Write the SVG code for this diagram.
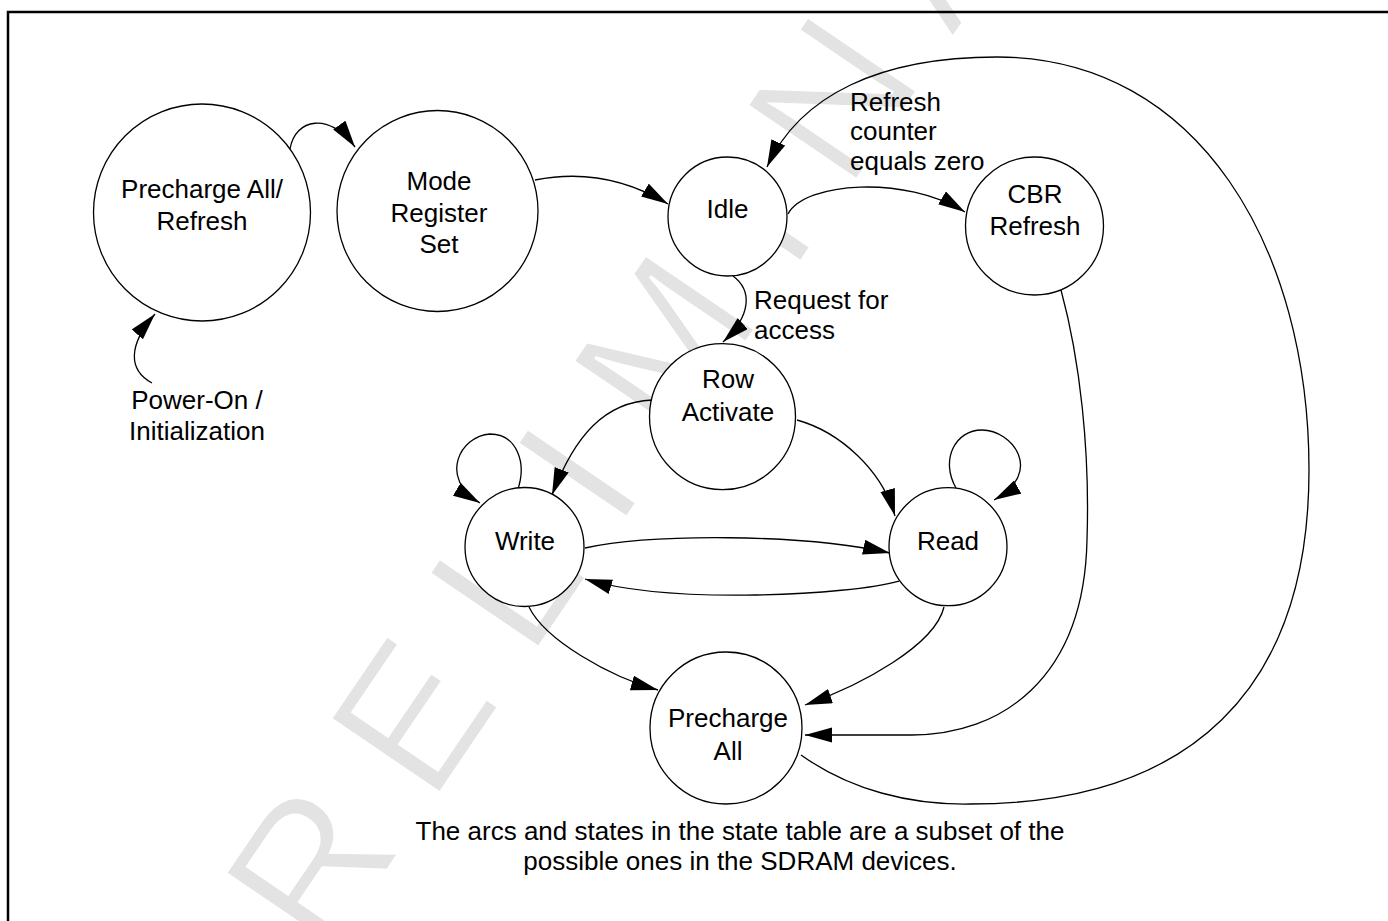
<svg xmlns="http://www.w3.org/2000/svg" width="1388" height="921" viewBox="0 0 1388 921">
<style>
  text { font-family: "Liberation Sans", Arial, Helvetica, sans-serif; font-size: 26px; fill: #000; }
  .lbl { text-anchor: middle; }
  .node circle { fill: #fff; stroke: #000; stroke-width: 1.3; }
  .edge { fill: none; stroke: #000; stroke-width: 1.3; marker-end: url(#ah); }
  .wm { fill: #e3e3e3; stroke: #fff; stroke-width: 3; font-size: 192px; letter-spacing: 48px; }
</style>
<defs>
  <marker id="ah" markerUnits="userSpaceOnUse" markerWidth="28" markerHeight="16" refX="27" refY="7.5" orient="auto">
    <path d="M0,0 L27,7.5 L0,15 z" fill="#000"/>
  </marker>
</defs>
<rect x="0" y="0" width="1388" height="921" fill="#fff"/>
<g id="watermark">
  <text class="wm" transform="translate(227,1106) rotate(-55.8)">PRELIMINARY</text>
</g>
<path id="frame" d="M8,921 V12 H1388" fill="none" stroke="#000" stroke-width="2.5"/>
<g id="connectors">
  <path class="edge" d="M152,383 C128,370 128,345 155,314"/>
  <path class="edge" d="M290,149 C295,118 330,112 355,147"/>
  <path class="edge" d="M535,180 C575,172 620,175 668,204"/>
  <path class="edge" d="M788,214 C805,182 905,175 965,212"/>
  <path class="edge" d="M801,755 C850,790 910,805 970,804 C1190,804 1309,690 1309,470 C1309,250 1200,57 997,57 C880,57 800,95 767,167"/>
  <path class="edge" d="M1061,290 C1080,360 1090,450 1087,540 C1084,680 1000,735 912,735 L805,735"/>
  <path class="edge" d="M733,276 C752,290 752,315 723,342"/>
  <path class="edge" d="M652,400 C605,402 575,435 552,495"/>
  <path class="edge" d="M797,420 C840,432 882,470 895,516"/>
  <path class="edge" d="M517,492 C528,462 516,434 490,434 C460,436 438,478 480,503"/>
  <path class="edge" d="M956,488 C940,460 955,430 982,430 C1012,430 1045,472 994,500"/>
  <path class="edge" d="M585,548 C650,534 800,533 890,553"/>
  <path class="edge" d="M899,581 C850,595 671,605 585,579"/>
  <path class="edge" d="M529,607 C545,640 610,677 658,690"/>
  <path class="edge" d="M944,607 C935,645 862,685 805,705"/>
</g>
<g id="node-precharge-refresh" class="node">
  <circle cx="202" cy="212.5" r="108.5"/>
  <text class="lbl" x="202" y="198">Precharge All/</text>
  <text class="lbl" x="202" y="230">Refresh</text>
</g>
<g id="node-mode-register" class="node">
  <circle cx="437.5" cy="211" r="100.5"/>
  <text class="lbl" x="439" y="190">Mode</text>
  <text class="lbl" x="439" y="221.5">Register</text>
  <text class="lbl" x="439" y="253">Set</text>
</g>
<g id="node-idle" class="node">
  <circle cx="727.5" cy="216.5" r="59.5"/>
  <text class="lbl" x="727.5" y="218">Idle</text>
</g>
<g id="node-cbr" class="node">
  <circle cx="1034.5" cy="226" r="69"/>
  <text class="lbl" x="1035" y="203">CBR</text>
  <text class="lbl" x="1035" y="235">Refresh</text>
</g>
<g id="node-row" class="node">
  <circle cx="722.5" cy="416.7" r="73"/>
  <text class="lbl" x="728" y="388">Row</text>
  <text class="lbl" x="728" y="420.5">Activate</text>
</g>
<g id="node-write" class="node">
  <circle cx="524.5" cy="547" r="59.5"/>
  <text class="lbl" x="525" y="549.5">Write</text>
</g>
<g id="node-read" class="node">
  <circle cx="948" cy="546.7" r="59"/>
  <text class="lbl" x="948" y="550">Read</text>
</g>
<g id="node-precharge-all" class="node">
  <circle cx="726" cy="728" r="76"/>
  <text class="lbl" x="728" y="727">Precharge</text>
  <text class="lbl" x="728" y="760">All</text>
</g>
<g id="labels">
  <text class="lbl" x="197" y="409">Power-On /</text>
  <text class="lbl" x="197" y="440">Initialization</text>
  <text x="754" y="309">Request for</text>
  <text x="754" y="339">access</text>
  <text x="850" y="111">Refresh</text>
  <text x="850" y="140">counter</text>
  <text x="850" y="170">equals zero</text>
  <text class="lbl" x="740" y="840">The arcs and states in the state table are a subset of the</text>
  <text class="lbl" x="740" y="870">possible ones in the SDRAM devices.</text>
</g>
</svg>
